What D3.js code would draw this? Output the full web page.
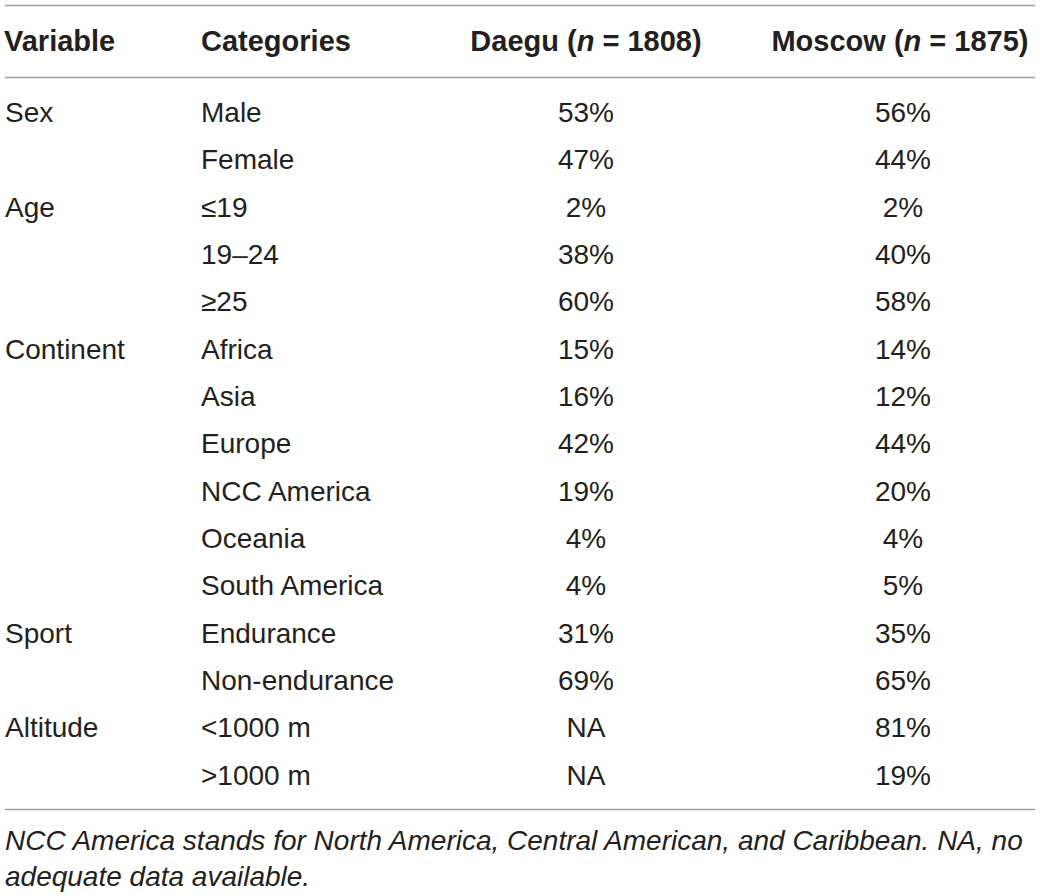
<!DOCTYPE html>
<html>
<head>
<meta charset="utf-8">
<script src="https://cdn.jsdelivr.net/npm/d3@7"></script>
<style>
  body { margin: 0; background: #fff; }
  svg text { font-family: "Liberation Sans", Arial, Helvetica, sans-serif; fill: #231f20; }
</style>
</head>
<body>
<div class="table-chart"></div>
<script>
const headers = ["Variable", "Categories", "Daegu", "Moscow"];
const sampleSizes = ["1808", "1875"];
const variables = ["Sex", "", "Age", "", "", "Continent", "", "", "", "", "", "Sport", "", "Altitude", ""];
const categories = ["Male", "Female", "\u226419", "19\u201324", "\u226525", "Africa", "Asia", "Europe",
  "NCC America", "Oceania", "South America", "Endurance", "Non-endurance", "<1000 m", ">1000 m"];
const daegu = ["53%", "47%", "2%", "38%", "60%", "15%", "16%", "42%", "19%", "4%", "4%", "31%", "69%", "NA", "NA"];
const moscow = ["56%", "44%", "2%", "40%", "58%", "14%", "12%", "44%", "20%", "4%", "5%", "35%", "65%", "81%", "19%"];
const footnote = [
  "NCC America stands for North America, Central American, and Caribbean. NA, no",
  "adequate data available."
];

const width = 1040;
const height = 896;

const svg = d3.select(".table-chart")
  .append("svg")
  .attr("width", width)
  .attr("height", height);

// row centres
const y = d3.scalePoint()
  .domain(d3.range(categories.length))
  .range([112, 775]);

const rule = (yy) => svg.append("line")
  .attr("x1", 5).attr("x2", 1035)
  .attr("y1", yy).attr("y2", yy)
  .attr("stroke", "#9a9a9a")
  .attr("stroke-width", 1.4);

rule(5.5);
rule(77.5);
rule(809.5);

// header
const head = svg.append("g")
  .attr("font-weight", "bold")
  .attr("font-size", 29);

head.append("text").attr("x", 4).attr("y", 41).attr("dy", "0.35em").text(headers[0]);
head.append("text").attr("x", 201).attr("y", 41).attr("dy", "0.35em").text(headers[1]);

[[586, headers[2], sampleSizes[0]], [900, headers[3], sampleSizes[1]]].forEach(([cx, name, n]) => {
  const t = head.append("text")
    .attr("x", cx).attr("y", 41).attr("dy", "0.35em")
    .attr("text-anchor", "middle");
  t.append("tspan").text(name + " (");
  t.append("tspan").attr("font-style", "italic").text("n");
  t.append("tspan").text(" = " + n + ")");
});

// body rows
const rows = svg.append("g")
  .attr("font-size", 28)
  .selectAll("g")
  .data(categories.map((c, i) => ({ v: variables[i], c, d: daegu[i], m: moscow[i], i })))
  .enter()
  .append("g")
  .attr("transform", d => `translate(0,${y(d.i)})`);

rows.append("text").attr("x", 5).attr("dy", "0.35em").text(d => d.v);
rows.append("text").attr("x", 201).attr("dy", "0.35em").text(d => d.c);
rows.append("text").attr("x", 586).attr("dy", "0.35em").attr("text-anchor", "middle").text(d => d.d);
rows.append("text").attr("x", 903).attr("dy", "0.35em").attr("text-anchor", "middle").text(d => d.m);

// footnote
svg.append("g")
  .attr("font-size", 28)
  .attr("font-style", "italic")
  .selectAll("text")
  .data(footnote)
  .enter()
  .append("text")
  .attr("x", 5)
  .attr("y", (d, i) => 840 + i * 36)
  .attr("dy", "0.35em")
  .text(d => d);
</script>
</body>
</html>
